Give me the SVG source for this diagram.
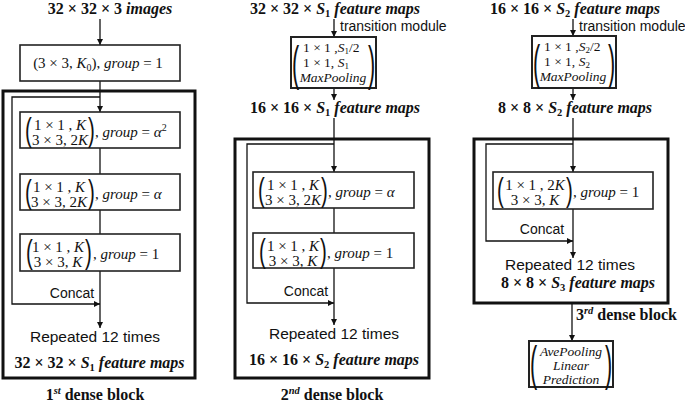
<svg xmlns="http://www.w3.org/2000/svg" width="685" height="404" viewBox="0 0 685 404">
<style>
.tb{font-family:"Liberation Serif","Times New Roman",serif;font-weight:bold;font-size:16px;fill:#111;}
.m{font-family:"Liberation Serif","Times New Roman",serif;font-size:15px;fill:#111;}
.ms{font-family:"Liberation Serif","Times New Roman",serif;font-size:13.5px;fill:#111;}
.s{font-family:"Liberation Sans",Arial,sans-serif;font-size:14px;fill:#111;}
.rp{font-size:15.5px;}
.par{font-family:"Liberation Sans",Arial,sans-serif;font-size:34px;fill:#111;}
.par3{font-family:"Liberation Sans",Arial,sans-serif;font-size:48px;fill:#111;}
.i{font-style:italic;}
.box{fill:#fff;stroke:#222;stroke-width:1.6;}
.tbox{fill:#fff;stroke:#222;stroke-width:2;}
.outer{fill:none;stroke:#111;stroke-width:3;}
.ln{fill:none;stroke:#111;stroke-width:1.3;}
</style>
<defs>
<marker id="ah" markerWidth="6" markerHeight="6" refX="6" refY="3" orient="auto" markerUnits="userSpaceOnUse">
<path d="M0,0 L6,3 L0,6 z" fill="#111"/>
</marker>
</defs>

<g id="connectors">
<path class="ln" d="M100,19 V45" marker-end="url(#ah)"/>
<path class="ln" d="M100,81 V112" marker-end="url(#ah)"/>
<path class="ln" d="M100,97 H12 V304 H100" marker-end="url(#ah)"/>
<path class="ln" d="M100,148 V174"/>
<path class="ln" d="M100,210 V234"/>
<path class="ln" d="M100,271 V328" marker-end="url(#ah)"/>

<path class="ln" d="M334,19 V37" marker-end="url(#ah)"/>
<path class="ln" d="M334,88 V100" marker-end="url(#ah)"/>
<path class="ln" d="M334,118 V172" marker-end="url(#ah)"/>
<path class="ln" d="M334,144 H247 V303 H334" marker-end="url(#ah)"/>
<path class="ln" d="M334,208 V233"/>
<path class="ln" d="M334,268 V325" marker-end="url(#ah)"/>

<path class="ln" d="M573,19 V36" marker-end="url(#ah)"/>
<path class="ln" d="M573,88 V100" marker-end="url(#ah)"/>
<path class="ln" d="M573,118 V172" marker-end="url(#ah)"/>
<path class="ln" d="M573,144 H486 V241 H573" marker-end="url(#ah)"/>
<path class="ln" d="M573,209 V258" marker-end="url(#ah)"/>
<path class="ln" d="M572,303 V341" marker-end="url(#ah)"/>
</g>

<g id="block1">
<rect class="outer" x="3" y="91" width="192" height="287"/>
<text class="s" x="72" y="298" text-anchor="middle">Concat</text>
<text class="s rp" x="95" y="342" text-anchor="middle">Repeated 12 times</text>
<text class="tb" x="99.5" y="368" text-anchor="middle">32 × 32 × <tspan class="i">S</tspan><tspan font-size="10.5" dy="3">1</tspan><tspan class="i" dy="-3"> feature maps</tspan></text>
<text class="tb" x="95" y="400" text-anchor="middle">1<tspan class="i" font-size="10.5" dy="-6">st</tspan><tspan dy="6"> dense block</tspan></text>
</g>

<g id="input">
<text class="tb" x="110" y="14" text-anchor="middle">32 × 32 × 3 <tspan class="i">images</tspan></text>
</g>

<g id="conv0">
<rect class="box" x="20" y="45" width="160" height="36"/>
<text class="m" x="98" y="68" text-anchor="middle">(3 × 3, <tspan class="i">K</tspan><tspan font-size="10" dy="3">0</tspan><tspan dy="-3">), </tspan><tspan class="i">group</tspan> = 1</text>
</g>

<g id="b1a">
<rect class="box" x="20" y="112" width="160" height="36"/>
<text class="par" transform="translate(25,141) scale(0.6,1)">(</text>
<text class="m" x="60" y="130" text-anchor="middle">1 × 1 , <tspan class="i">K</tspan></text>
<text class="m" x="60" y="145" text-anchor="middle">3 × 3, 2<tspan class="i">K</tspan></text>
<text class="par" transform="translate(88,141) scale(0.6,1)">)</text>
<text class="m" x="95" y="137">, <tspan class="i">group</tspan> = <tspan class="i">α</tspan><tspan font-size="10" dy="-6">2</tspan></text>
</g>

<g id="b1b">
<rect class="box" x="20" y="174" width="160" height="36"/>
<text class="par" transform="translate(25,203) scale(0.6,1)">(</text>
<text class="m" x="59" y="192" text-anchor="middle">1 × 1 , <tspan class="i">K</tspan></text>
<text class="m" x="59" y="207" text-anchor="middle">3 × 3, 2<tspan class="i">K</tspan></text>
<text class="par" transform="translate(88,203) scale(0.6,1)">)</text>
<text class="m" x="95" y="199">, <tspan class="i">group</tspan> = <tspan class="i">α</tspan></text>
</g>

<g id="b1c">
<rect class="box" x="20" y="234" width="160" height="37"/>
<text class="par" transform="translate(26,263) scale(0.6,1)">(</text>
<text class="m" x="58" y="252" text-anchor="middle">1 × 1 , <tspan class="i">K</tspan></text>
<text class="m" x="58" y="267" text-anchor="middle">3 × 3, <tspan class="i">K</tspan></text>
<text class="par" transform="translate(85,263) scale(0.6,1)">)</text>
<text class="m" x="93" y="259">, <tspan class="i">group</tspan> = 1</text>
</g>

<g id="title2">
<text class="tb" x="335" y="14" text-anchor="middle">32 × 32 × <tspan class="i">S</tspan><tspan font-size="10.5" dy="3">1</tspan><tspan class="i" dy="-3"> feature maps</tspan></text>
<text class="s" x="340" y="31">transition module</text>
</g>

<g id="trans1">
<rect class="tbox" x="291" y="37" width="85" height="51"/>
<text class="par3" transform="translate(292,80) scale(0.45,1)">(</text>
<text class="ms" x="303" y="52">1 × 1 ,<tspan class="i">S</tspan><tspan font-size="9" dy="2">1</tspan><tspan dy="-2">/2</tspan></text>
<text class="ms" x="303" y="67">1 × 1,   <tspan class="i">S</tspan><tspan font-size="9" dy="2">1</tspan></text>
<text class="ms i" x="333" y="82" text-anchor="middle">MaxPooling</text>
<text class="par3" transform="translate(368,80) scale(0.45,1)">)</text>
</g>

<g id="fm2">
<text class="tb" x="335" y="113" text-anchor="middle">16 × 16 × <tspan class="i">S</tspan><tspan font-size="10.5" dy="3">1</tspan><tspan class="i" dy="-3"> feature maps</tspan></text>
</g>

<g id="block2">
<rect class="outer" x="235" y="139" width="194" height="239"/>
<text class="s" x="306" y="296" text-anchor="middle">Concat</text>
<text class="s rp" x="334" y="339" text-anchor="middle">Repeated 12 times</text>
<text class="tb" x="334" y="365" text-anchor="middle">16 × 16 × <tspan class="i">S</tspan><tspan font-size="10.5" dy="3">2</tspan><tspan class="i" dy="-3"> feature maps</tspan></text>
<text class="tb" x="332" y="400" text-anchor="middle">2<tspan class="i" font-size="10.5" dy="-6">nd</tspan><tspan dy="6"> dense block</tspan></text>
</g>

<g id="b2a">
<rect class="box" x="253" y="172" width="161" height="36"/>
<text class="par" transform="translate(258,201) scale(0.6,1)">(</text>
<text class="m" x="293" y="190" text-anchor="middle">1 × 1 , <tspan class="i">K</tspan></text>
<text class="m" x="293" y="205" text-anchor="middle">3 × 3, 2<tspan class="i">K</tspan></text>
<text class="par" transform="translate(321,201) scale(0.6,1)">)</text>
<text class="m" x="328" y="197">, <tspan class="i">group</tspan> = <tspan class="i">α</tspan></text>
</g>

<g id="b2b">
<rect class="box" x="253" y="233" width="161" height="35"/>
<text class="par" transform="translate(259,262) scale(0.6,1)">(</text>
<text class="m" x="293" y="251" text-anchor="middle">1 × 1 , <tspan class="i">K</tspan></text>
<text class="m" x="293" y="266" text-anchor="middle">3 × 3, <tspan class="i">K</tspan></text>
<text class="par" transform="translate(320,262) scale(0.6,1)">)</text>
<text class="m" x="327" y="258">, <tspan class="i">group</tspan> = 1</text>
</g>

<g id="title3">
<text class="tb" x="575" y="14" text-anchor="middle">16 × 16 × <tspan class="i">S</tspan><tspan font-size="10.5" dy="3">2</tspan><tspan class="i" dy="-3"> feature maps</tspan></text>
<text class="s" x="579" y="31">transition module</text>
</g>

<g id="trans2">
<rect class="tbox" x="532" y="36" width="84" height="52"/>
<text class="par3" transform="translate(533,79) scale(0.45,1)">(</text>
<text class="ms" x="544" y="51">1 × 1 ,<tspan class="i">S</tspan><tspan font-size="9" dy="2">2</tspan><tspan dy="-2">/2</tspan></text>
<text class="ms" x="544" y="66">1 × 1,   <tspan class="i">S</tspan><tspan font-size="9" dy="2">2</tspan></text>
<text class="ms i" x="573" y="81" text-anchor="middle">MaxPooling</text>
<text class="par3" transform="translate(608,79) scale(0.45,1)">)</text>
</g>

<g id="fm3">
<text class="tb" x="575" y="113" text-anchor="middle">8 × 8 × <tspan class="i">S</tspan><tspan font-size="10.5" dy="3">2</tspan><tspan class="i" dy="-3"> feature maps</tspan></text>
</g>

<g id="block3">
<rect class="outer" x="474" y="139" width="194" height="164"/>
<text class="s" x="542" y="234" text-anchor="middle">Concat</text>
<text class="s rp" x="570" y="270" text-anchor="middle">Repeated 12 times</text>
<text class="tb" x="578" y="288" text-anchor="middle">8 × 8 × <tspan class="i">S</tspan><tspan font-size="10.5" dy="3">3</tspan><tspan class="i" dy="-3"> feature maps</tspan></text>
<text class="tb" x="576" y="320">3<tspan class="i" font-size="10.5" dy="-6">rd</tspan><tspan dy="6"> dense block</tspan></text>
</g>

<g id="b3a">
<rect class="box" x="493" y="172" width="160" height="37"/>
<text class="par" transform="translate(497,201) scale(0.6,1)">(</text>
<text class="m" x="535" y="190" text-anchor="middle">1 × 1 , 2<tspan class="i">K</tspan></text>
<text class="m" x="535" y="205" text-anchor="middle">3 × 3, <tspan class="i">K</tspan></text>
<text class="par" transform="translate(566,201) scale(0.6,1)">)</text>
<text class="m" x="573" y="197">, <tspan class="i">group</tspan> = 1</text>
</g>

<g id="head">
<rect class="tbox" x="529" y="341" width="84" height="46"/>
<text class="par3" transform="translate(530,380) scale(0.45,1)">(</text>
<text class="ms i" x="571" y="356" text-anchor="middle">AvePooling</text>
<text class="ms i" x="571" y="370" text-anchor="middle">Linear</text>
<text class="ms i" x="571" y="384" text-anchor="middle">Prediction</text>
<text class="par3" transform="translate(605,380) scale(0.45,1)">)</text>
</g>
</svg>
